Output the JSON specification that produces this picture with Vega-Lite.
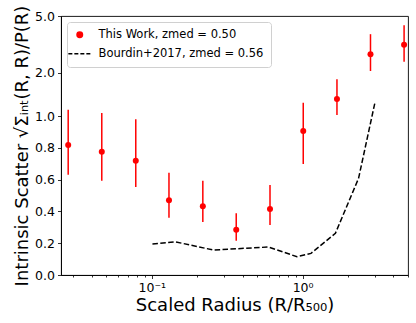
{
  "$schema": "https://vega.github.io/schema/vega-lite/v6.json",
  "autosize": {"type": "none"},
  "padding": {"left": 61, "top": 16, "right": 8, "bottom": 48},
  "width": 347,
  "height": 259,
  "background": "white",
  "config": {
    "font": "DejaVu Sans",
    "view": {"stroke": "#000000", "strokeWidth": 0.9},
    "axis": {
      "labelFont": "DejaVu Sans",
      "titleFont": "DejaVu Sans",
      "labelFontSize": 12.5,
      "titleFontSize": 18,
      "titleFontWeight": "normal",
      "labelColor": "#000000",
      "titleColor": "#000000",
      "domainColor": "#000000",
      "domainWidth": 0.9,
      "tickColor": "#000000",
      "tickWidth": 0.8,
      "grid": false
    },
    "legend": {"labelFont": "DejaVu Sans", "labelFontSize": 11.5, "labelColor": "#000000", "labelLimit": 400}
  },
  "datasets": {
    "thiswork": [
      {"series": "This Work, zmed = 0.50", "r": 0.0279, "s": 0.817, "lo": 0.631, "hi": 1.114},
      {"series": "This Work, zmed = 0.50", "r": 0.0466, "s": 0.775, "lo": 0.593, "hi": 1.054},
      {"series": "This Work, zmed = 0.50", "r": 0.0783, "s": 0.719, "lo": 0.553, "hi": 0.979},
      {"series": "This Work, zmed = 0.50", "r": 0.130, "s": 0.470, "lo": 0.360, "hi": 0.643},
      {"series": "This Work, zmed = 0.50", "r": 0.218, "s": 0.432, "lo": 0.333, "hi": 0.593},
      {"series": "This Work, zmed = 0.50", "r": 0.363, "s": 0.285, "lo": 0.216, "hi": 0.388},
      {"series": "This Work, zmed = 0.50", "r": 0.608, "s": 0.415, "lo": 0.314, "hi": 0.566},
      {"series": "This Work, zmed = 0.50", "r": 1.01, "s": 0.906, "lo": 0.698, "hi": 1.239},
      {"series": "This Work, zmed = 0.50", "r": 1.69, "s": 1.32, "lo": 1.02, "hi": 1.81},
      {"series": "This Work, zmed = 0.50", "r": 2.82, "s": 2.71, "lo": 2.07, "hi": 3.74},
      {"series": "This Work, zmed = 0.50", "r": 4.71, "s": 3.15, "lo": 2.40, "hi": 4.32}
    ],
    "bourdin": [
      {"series": "Bourdin+2017, zmed = 0.56", "r": 0.101, "s": 0.195},
      {"series": "Bourdin+2017, zmed = 0.56", "r": 0.143, "s": 0.209},
      {"series": "Bourdin+2017, zmed = 0.56", "r": 0.256, "s": 0.157},
      {"series": "Bourdin+2017, zmed = 0.56", "r": 0.594, "s": 0.176},
      {"series": "Bourdin+2017, zmed = 0.56", "r": 0.918, "s": 0.115},
      {"series": "Bourdin+2017, zmed = 0.56", "r": 1.137, "s": 0.136},
      {"series": "Bourdin+2017, zmed = 0.56", "r": 1.65, "s": 0.262},
      {"series": "Bourdin+2017, zmed = 0.56", "r": 2.35, "s": 0.608},
      {"series": "Bourdin+2017, zmed = 0.56", "r": 3.01, "s": 1.227}
    ]
  },
  "layer": [
    {
      "data": {"name": "bourdin"},
      "mark": {"type": "line", "strokeDash": [5.5, 2.4], "strokeWidth": 1.5, "clip": true},
      "encoding": {
        "x": {
          "field": "r", "type": "quantitative",
          "scale": {"type": "log", "domain": [0.025, 5.0], "nice": false},
          "axis": {
            "title": "Scaled Radius (R/R₅₀₀)",
            "values": [0.03, 0.04, 0.05, 0.06, 0.07, 0.08, 0.09, 0.1, 0.2, 0.3, 0.4, 0.5, 0.6, 0.7, 0.8, 0.9, 1, 2, 3, 4, 5],
            "tickCount": 40,
            "labelExpr": "datum.value == 0.1 ? '10⁻¹' : (datum.value == 1 ? '10⁰' : '')",
            "labelOverlap": false,
            "labelFlush": false,
            "labelPadding": 3,
            "tickSize": {"condition": {"test": "datum.value == 0.1 || datum.value == 1", "value": 3.5}, "value": 2},
            "titlePadding": 2
          }
        },
        "y": {
          "field": "s", "type": "quantitative",
          "scale": {
            "type": "linear",
            "domain": [0, 1, 1.25, 1.5, 1.75, 2, 2.5, 3, 3.5, 4, 4.5, 5],
            "range": [259, 100.01, 86.14, 74.81, 65.23, 56.94, 43.07, 31.74, 22.16, 13.86, 6.54, 0],
            "nice": false, "zero": false
          },
          "axis": {
            "title": "Intrinsic Scatter √Σᵢₙₜ(R, R)/P(R)",
            "values": [0, 0.2, 0.4, 0.6, 0.8, 1, 2, 5],
            "tickCount": 20,
            "format": ".1f",
            "labelOverlap": false,
            "labelFlush": false,
            "tickSize": 3.5,
            "labelPadding": 3,
            "titlePadding": 3
          }
        },
        "color": {
          "field": "series", "type": "nominal",
          "scale": {"domain": ["This Work, zmed = 0.50", "Bourdin+2017, zmed = 0.56"], "range": ["#ff0000", "#000000"]},
          "legend": {
            "title": null,
            "orient": "top-left",
            "offset": 6,
            "padding": 7,
            "fillColor": "#ffffff",
            "strokeColor": "#d0d0d0",
            "cornerRadius": 3,
            "rowPadding": 6,
            "symbolSize": 480,
            "labelOffset": 13,
            "encode": {
              "symbols": {
                "update": {
                  "shape": {"signal": "datum.value == 'Bourdin+2017, zmed = 0.56' ? 'stroke' : 'circle'"},
                  "size": {"signal": "datum.value == 'Bourdin+2017, zmed = 0.56' ? 520 : 30"},
                  "fill": {"signal": "datum.value == 'Bourdin+2017, zmed = 0.56' ? 'transparent' : '#ff0000'"},
                  "stroke": {"signal": "datum.value == 'Bourdin+2017, zmed = 0.56' ? '#000000' : 'transparent'"},
                  "strokeDash": {"signal": "datum.value == 'Bourdin+2017, zmed = 0.56' ? [4, 2] : []"},
                  "strokeWidth": {"value": 1.5},
                  "opacity": {"value": 1}
                }
              }
            }
          }
        }
      }
    },
    {
      "data": {"name": "thiswork"},
      "mark": {"type": "rule", "strokeWidth": 1.5, "color": "#ff0000"},
      "encoding": {
        "x": {"field": "r", "type": "quantitative"},
        "y": {"field": "lo", "type": "quantitative"},
        "y2": {"field": "hi"}
      }
    },
    {
      "data": {"name": "thiswork"},
      "mark": {"type": "point", "filled": true, "size": 36, "opacity": 1, "shape": "circle"},
      "encoding": {
        "x": {"field": "r", "type": "quantitative"},
        "y": {"field": "s", "type": "quantitative"},
        "color": {"field": "series", "type": "nominal"}
      }
    }
  ]
}
